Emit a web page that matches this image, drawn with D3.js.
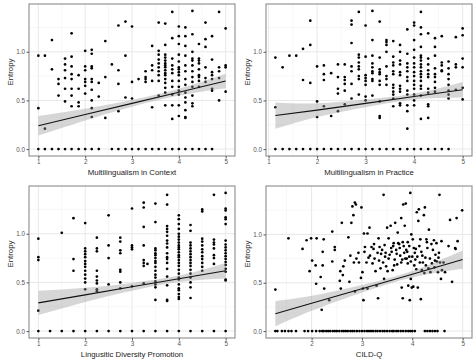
<!DOCTYPE html>
<html>
<head>
<meta charset="utf-8">
<script src="https://cdn.jsdelivr.net/npm/d3@7"></script>
<style>
  body { margin: 0; background: #fff; }
  svg { display: block; }
  text { font-family: "Liberation Sans", Arial, sans-serif; }
</style>
</head>
<body>
<svg width="474" height="364"></svg>
<script>
// ---- data ----
// discrete scores: [x, [entropy values in that column]]
const contextCols = [
  [1, [0.96, 0.42, 0]],
  [1.14, [0.96, 0.21, 0]],
  [1.29, [1.12, 0.82, 0]],
  [1.43, [0.72, 0.67, 0.55, 0]],
  [1.57, [0.93, 0.87, 0.81, 0.73, 0.62, 0.49, 0]],
  [1.71, [1.19, 0.95, 0.85, 0.77, 0.72, 0.62, 0.55, 0.44, 0]],
  [1.86, [0.76, 0.62, 0.48, 0.44, 0]],
  [2, [1.01, 0.85, 0.81, 0.72, 0.69, 0.65, 0.57, 0]],
  [2.14, [1.02, 0.98, 0.85, 0.83, 0.72, 0.69, 0.61, 0.5, 0.42, 0.33, 0]],
  [2.29, [0.68, 0.54, 0]],
  [2.43, [1.11, 0.74, 0.32]],
  [2.57, [0.87, 0]],
  [2.71, [1.27, 0.81, 0.67, 0.39, 0]],
  [2.86, [1.31, 0.96, 0.53, 0]],
  [3, [1.26, 0.69, 0.52, 0]],
  [3.14, [0.72, 0]],
  [3.29, [0.8, 0.74, 0.72, 0.69, 0]],
  [3.43, [1.06, 0.86, 0.81, 0.7, 0.43, 0]],
  [3.57, [1.3, 1.01, 0.97, 0.92, 0.88, 0.84, 0.8, 0.76, 0.7, 0.55, 0]],
  [3.71, [1.29, 1.07, 0.97, 0.94, 0.91, 0.88, 0.86, 0.84, 0.81, 0.78, 0.76, 0.72, 0.68, 0.63, 0.58, 0.45, 0]],
  [3.86, [1.41, 1.14, 0.93, 0.86, 0.82, 0.78, 0.7, 0.64, 0.56, 0.45, 0.31, 0]],
  [4, [1.26, 1.16, 1.08, 0.97, 0.9, 0.84, 0.82, 0.79, 0.76, 0.7, 0.64, 0.6, 0.56, 0.45, 0.34, 0]],
  [4.14, [1.25, 1.16, 1.06, 0.96, 0.86, 0.8, 0.72, 0.66, 0.58, 0.53, 0.48, 0.4, 0.33, 0.32, 0]],
  [4.29, [1.42, 1.18, 1.0, 0.93, 0.91, 0.86, 0.8, 0.74, 0.69, 0.64, 0.55, 0.47, 0.44, 0]],
  [4.43, [1.08, 0.93, 0.91, 0.88, 0.82, 0.76, 0.74, 0.7, 0.64, 0]],
  [4.57, [1.3, 1.13, 1.05, 0.84, 0.73, 0.69, 0]],
  [4.71, [1.16, 0.92, 0.79, 0.76, 0.72, 0.62, 0.6, 0]],
  [4.86, [1.41, 0.84, 0.8, 0.73, 0.5]],
  [5, [1.24, 0.86, 0.84, 0.59]]
];

const practiceCols = [
  [1.14, [0.94, 0.43, 0]],
  [1.29, [0.84, 0]],
  [1.43, [0.96, 0]],
  [1.57, [0.96, 0]],
  [1.71, [1.03, 0.71, 0]],
  [1.86, [1.32, 1.07, 0.68, 0]],
  [2, [0.85, 0.49, 0.33, 0]],
  [2.14, [0.86, 0.77, 0.71, 0.44, 0]],
  [2.29, [0.78, 0.34, 0]],
  [2.43, [0.87, 0.74, 0.62, 0.57, 0.39, 0]],
  [2.57, [0.87, 0.74, 0.71, 0.67, 0.6, 0.46, 0]],
  [2.71, [1.32, 1.28, 1.09, 0.85, 0.8, 0.67, 0.52, 0]],
  [2.86, [1.41, 0.97, 0.94, 0.89, 0.85, 0.82, 0.75, 0.72, 0.56, 0]],
  [3, [1.27, 0.95, 0.76, 0.73, 0.7, 0.66, 0.54, 0.5, 0]],
  [3.14, [1.42, 1.12, 0.96, 0.88, 0.84, 0.8, 0.78, 0.72, 0.7, 0.55, 0]],
  [3.29, [1.31, 0.94, 0.82, 0.79, 0.77, 0.7, 0.66, 0.49, 0.34, 0.32, 0]],
  [3.43, [1.12, 1.1, 1.07, 1.0, 0.85, 0.75, 0.72, 0.66, 0]],
  [3.57, [1.11, 0.95, 0.89, 0.86, 0.8, 0.77, 0.66, 0.63, 0.59, 0.56, 0.52, 0.44, 0]],
  [3.71, [1.07, 1.0, 0.91, 0.87, 0.79, 0.76, 0.65, 0.62, 0.59, 0.47, 0.45, 0]],
  [3.86, [1.23, 0.98, 0.88, 0.84, 0.8, 0.74, 0.7, 0.6, 0.56, 0.45, 0.39, 0.21, 0]],
  [4, [1.3, 1.27, 1.12, 1.02, 0.94, 0.88, 0.84, 0.79, 0.75, 0.7, 0.66, 0.62, 0.56, 0.5, 0.45, 0]],
  [4.14, [1.41, 1.25, 1.18, 1.05, 0.96, 0.94, 0.91, 0.87, 0.84, 0.8, 0.77, 0.74, 0.7, 0.65, 0.62, 0.55, 0.31, 0]],
  [4.29, [1.19, 0.93, 0.87, 0.81, 0.77, 0.74, 0.62, 0.58, 0.46, 0.44, 0.32, 0]],
  [4.43, [1.14, 1.05, 0.96, 0.83, 0.77, 0.74, 0.69, 0.63, 0.59, 0]],
  [4.57, [1.16, 0.89, 0.86, 0.81, 0.8, 0]],
  [4.71, [0.9, 0.83, 0.77, 0.72, 0.66, 0.6, 0.56, 0.52, 0]],
  [4.86, [1.15, 0.87, 0.84, 0.61]],
  [5, [1.24, 1.17, 0.93, 0.84, 0.63, 0.51]]
];

const promotionCols = [
  [1, [0.95, 0.76, 0.73, 0.21, 0]],
  [1.25, [0]],
  [1.5, [1.01, 0]],
  [1.75, [1.16, 0.74, 0.62, 0]],
  [2, [1.11, 0.85, 0.82, 0.79, 0.76, 0.72, 0.69, 0.66, 0.62, 0.58, 0.54, 0.5, 0.43, 0]],
  [2.25, [0.96, 0.85, 0.82, 0.62, 0.56, 0.52, 0.49, 0.43, 0.41, 0]],
  [2.5, [1.19, 0.88, 0.75, 0.48, 0]],
  [2.75, [0.96, 0.92, 0.83, 0.8, 0.63, 0.61, 0.5, 0.44, 0]],
  [3, [1.26, 0.88, 0.86, 0.84, 0.46, 0]],
  [3.25, [1.32, 1.27, 1.07, 0.88, 0.73, 0.7, 0.67, 0.49, 0]],
  [3.33, [0.69]],
  [3.5, [1.31, 1.12, 0.85, 0.83, 0.8, 0.78, 0.75, 0.72, 0.7, 0.66, 0.62, 0.58, 0.55, 0.51, 0.48, 0.45, 0.32, 0]],
  [3.75, [1.4, 1.3, 1.08, 1.05, 1.02, 0.98, 0.93, 0.9, 0.86, 0.8, 0.76, 0.74, 0.7, 0.64, 0.56, 0.47, 0.32, 0.31, 0]],
  [4, [1.19, 1.15, 1.1, 1.05, 1.0, 0.97, 0.94, 0.91, 0.88, 0.86, 0.84, 0.81, 0.78, 0.76, 0.73, 0.7, 0.67, 0.63, 0.59, 0.55, 0.53, 0.48, 0.44, 0.42, 0.38, 0.35, 0.33, 0]],
  [4.25, [1.09, 1.03, 0.91, 0.88, 0.85, 0.82, 0.79, 0.76, 0.73, 0.7, 0.67, 0.63, 0.59, 0.55, 0.5, 0.45, 0.34, 0]],
  [4.5, [1.25, 1.23, 0.95, 0.92, 0.88, 0.84, 0.81, 0.77, 0.74, 0.7, 0.66, 0.62, 0]],
  [4.75, [1.4, 0.94, 0.91, 0.89, 0.85, 0.78, 0.75, 0.69, 0]],
  [5, [1.42, 1.26, 1.24, 1.17, 1.15, 1.1, 0.93, 0.89, 0.86, 0.83, 0.8, 0.77, 0.74, 0.71, 0.68, 0.64, 0.61, 0.53, 0.52, 0]]
];

// CILD-Q is continuous: [x, entropy]
const cildPoints = [
  [1.28, 0.43], [1.54, 0.96], [1.82, 0.85], [1.9, 0.94], [1.96, 0.62], [1.99, 0.96], [2.01, 0.73],
  [2.08, 0.68], [2.09, 0.49], [2.1, 0.96], [2.18, 0.56], [2.2, 0.22], [2.22, 0.82], [2.22, 0.68],
  [2.24, 0.95], [2.25, 0.44], [2.35, 0.32], [2.41, 1.03], [2.41, 0.72], [2.46, 0.87], [2.46, 0.84],
  [2.56, 0.52], [2.57, 0.62], [2.58, 0.44], [2.6, 1.12], [2.62, 0.58], [2.63, 0.67], [2.66, 0.73],
  [2.73, 0.97], [2.75, 0.51], [2.77, 0.78], [2.79, 1.12], [2.81, 1.29], [2.83, 1.2], [2.84, 0.71],
  [2.86, 0.41], [2.86, 1.33], [2.88, 1.31], [2.89, 0.75], [2.93, 0.81], [2.94, 0.71], [2.98, 0.55],
  [2.99, 1.28], [3.01, 0.61], [3.02, 0.44], [3.03, 0.32], [3.04, 1.01], [3.05, 0.82], [3.06, 0.87],
  [3.09, 0.71], [3.11, 1.01], [3.11, 0.44], [3.15, 1.07], [3.16, 0.78], [3.19, 0.87], [3.21, 0.7],
  [3.23, 0.85], [3.25, 0.75], [3.27, 0.62], [3.29, 0.47], [3.31, 0.81], [3.32, 0.34], [3.33, 0.96],
  [3.35, 0.87], [3.37, 0.65], [3.38, 0.8], [3.42, 0.71], [3.43, 1.41], [3.44, 0.54], [3.45, 0.89],
  [3.47, 0.81], [3.48, 0.67], [3.5, 1.07], [3.51, 0.62], [3.53, 0.96], [3.53, 0.75], [3.57, 1.09],
  [3.58, 0.86], [3.59, 0.82], [3.61, 0.63], [3.63, 0.91], [3.65, 0.74], [3.66, 1.12], [3.68, 0.84],
  [3.7, 0.69], [3.71, 1.02], [3.72, 0.91], [3.74, 0.9], [3.76, 0.78], [3.78, 1.17], [3.78, 0.71],
  [3.79, 0.45], [3.81, 0.92], [3.81, 0.34], [3.82, 1.31], [3.83, 0.88], [3.84, 0.81], [3.85, 1.09],
  [3.86, 0.75], [3.87, 1.32], [3.88, 0.84], [3.89, 0.75], [3.91, 0.92], [3.91, 0.7], [3.92, 0.47],
  [3.94, 0.77], [3.94, 0.88], [3.95, 0.32], [3.96, 1.43], [3.97, 0.54], [3.98, 1.0], [3.99, 0.45],
  [4.0, 0.77], [4.01, 0.95], [4.02, 0.46], [4.03, 0.86], [4.04, 0.68], [4.05, 0.81], [4.07, 0.85],
  [4.08, 0.64], [4.09, 1.23], [4.1, 0.77], [4.11, 0.45], [4.12, 1.14], [4.13, 1.26], [4.15, 0.71],
  [4.16, 0.95], [4.17, 0.33], [4.18, 0.82], [4.19, 0.63], [4.21, 0.71], [4.23, 1.2], [4.24, 0.6],
  [4.25, 1.28], [4.26, 0.76], [4.28, 0.95], [4.29, 0.92], [4.3, 0.86], [4.32, 0.65], [4.33, 1.05],
  [4.35, 0.75], [4.36, 0.61], [4.39, 0.7], [4.41, 0.84], [4.43, 0.94], [4.45, 0.73], [4.46, 0.79],
  [4.48, 0.91], [4.49, 0.72], [4.51, 0.61], [4.53, 0.81], [4.54, 1.41], [4.55, 0.71], [4.57, 0.54],
  [4.58, 0.93], [4.59, 0.63], [4.62, 0.71], [4.65, 0.61], [4.72, 0.88], [4.75, 1.15], [4.79, 0.51],
  [4.85, 0.86], [4.86, 0.85], [4.88, 1.17], [4.9, 0.93], [4.99, 1.25],
  [3.24, 0.9], [3.4, 0.84], [3.55, 0.79], [3.62, 0.88], [3.69, 0.8], [3.75, 0.86], [3.8, 0.74],
  [3.9, 0.82], [3.97, 0.72], [4.06, 0.74], [4.14, 0.88], [4.2, 0.78], [4.27, 0.68], [4.38, 0.9],
  [4.44, 0.66], [4.52, 0.76], [3.13, 0.76], [3.34, 0.73], [3.46, 0.77], [3.64, 0.68]
];
// CILD-Q scores of participants with zero entropy
const cildZeroX = [
  1.28, 1.32, 1.41, 1.47, 1.54, 1.6, 1.69, 1.86, 1.93, 2.01, 2.09, 2.16, 2.21, 2.24,
  2.29, 2.33, 2.37, 2.42, 2.46, 2.5, 2.55, 2.6, 2.64, 2.68, 2.72, 2.77, 2.81, 2.85, 2.9, 2.95,
  3.0, 3.05, 3.1, 3.14, 3.18, 3.22, 3.27, 3.31, 3.36, 3.41, 3.45, 3.5, 3.55, 3.6,
  3.63, 3.68, 3.72, 3.77, 3.82, 3.87, 3.92, 3.96, 4.0, 4.05,
  4.25, 4.3, 4.35, 4.4, 4.45, 4.5, 4.64
];

// fitted line with its confidence band: [x, fit, lower, upper]
const contextFit = [[1, 0.24, 0.14, 0.34], [2, 0.355, 0.295, 0.415], [3, 0.47, 0.435, 0.505], [4, 0.585, 0.55, 0.62], [5, 0.7, 0.625, 0.775]];
const practiceFit = [[1.14, 0.345, 0.21, 0.48], [2, 0.4, 0.33, 0.47], [3, 0.47, 0.43, 0.51], [4, 0.54, 0.51, 0.57], [5, 0.61, 0.53, 0.69]];
const promotionFit = [[1, 0.29, 0.165, 0.415], [2, 0.3725, 0.3, 0.445], [3, 0.455, 0.415, 0.495], [4, 0.5375, 0.505, 0.57], [5, 0.62, 0.54, 0.7]];
const cildFit = [[1.28, 0.18, 0.05, 0.31], [2, 0.288, 0.21, 0.365], [3, 0.439, 0.4, 0.478], [4, 0.589, 0.555, 0.623], [5, 0.74, 0.645, 0.835]];

const likertTicks = [1, 2, 3, 4, 5];
const cildTicks = [2, 3, 4, 5];
const entropyTicks = [0, 0.5, 1.0];

const axisTitles = ["Multilingualism in Context", "Multilingualism in Practice", "Lingusitic Diversity Promotion", "CILD-Q"];
const yTitle = "Entropy";

// ---- layout ----
const svg = d3.select("svg");
const cellW = 237, cellH = 182;
const margin = { top: 4, right: 2, bottom: 26, left: 29 };
const innerW = cellW - margin.left - margin.right;
const innerH = cellH - margin.top - margin.bottom;

const fromCols = (cols) => cols.flatMap(([x, ys]) => ys.map((y) => [x, y]));

const panels = [
  { title: axisTitles[0], points: fromCols(contextCols), fit: contextFit, xTicks: likertTicks, col: 0, row: 0 },
  { title: axisTitles[1], points: fromCols(practiceCols), fit: practiceFit, xTicks: likertTicks, col: 1, row: 0 },
  { title: axisTitles[2], points: fromCols(promotionCols), fit: promotionFit, xTicks: likertTicks, col: 0, row: 1 },
  { title: axisTitles[3], points: cildPoints.concat(cildZeroX.map((x) => [x, 0])), fit: cildFit, xTicks: cildTicks, col: 1, row: 1 }
];

// ggplot-like 5% padding around the data range
const padded = (vals) => {
  const [a, b] = d3.extent(vals);
  const p = (b - a) * 0.05;
  return [a - p, b + p];
};

const midpoints = (ticks, domain) => {
  const step = ticks[1] - ticks[0];
  const out = [];
  for (let v = ticks[0] - step / 2; v <= domain[1]; v += step) {
    if (v >= domain[0]) out.push(v);
  }
  return out;
};

const render = (p) => {
  const g = svg
    .append("g")
    .attr("transform", `translate(${p.col * cellW + margin.left},${p.row * cellH + margin.top})`);

  const xDom = padded(p.points.map((d) => d[0]).concat(p.fit.map((d) => d[0])));
  const yDom = padded(p.points.map((d) => d[1]).concat(p.fit.map((d) => d[2]), p.fit.map((d) => d[3])));

  const x = d3.scaleLinear().domain(xDom).range([0, innerW]);
  const y = d3.scaleLinear().domain(yDom).range([innerH, 0]);

  // grid
  const grid = g.append("g");
  grid.selectAll(".vminor").data(midpoints(p.xTicks, xDom)).join("line")
    .attr("x1", (d) => x(d)).attr("x2", (d) => x(d)).attr("y1", 0).attr("y2", innerH)
    .attr("stroke", "#f2f2f2").attr("stroke-width", 0.6);
  grid.selectAll(".hminor").data(midpoints(entropyTicks, yDom)).join("line")
    .attr("x1", 0).attr("x2", innerW).attr("y1", (d) => y(d)).attr("y2", (d) => y(d))
    .attr("stroke", "#f2f2f2").attr("stroke-width", 0.6);
  grid.selectAll(".vmajor").data(p.xTicks).join("line")
    .attr("x1", (d) => x(d)).attr("x2", (d) => x(d)).attr("y1", 0).attr("y2", innerH)
    .attr("stroke", "#e8e8e8").attr("stroke-width", 1);
  grid.selectAll(".hmajor").data(entropyTicks).join("line")
    .attr("x1", 0).attr("x2", innerW).attr("y1", (d) => y(d)).attr("y2", (d) => y(d))
    .attr("stroke", "#e8e8e8").attr("stroke-width", 1);

  // points
  g.append("g").selectAll("circle").data(p.points).join("circle")
    .attr("cx", (d) => x(d[0]))
    .attr("cy", (d) => y(d[1]))
    .attr("r", 1.35)
    .attr("fill", "#000");

  // confidence band + fitted line
  const band = d3.area()
    .x((d) => x(d[0]))
    .y0((d) => y(d[2]))
    .y1((d) => y(d[3]))
    .curve(d3.curveNatural);
  g.append("path").datum(p.fit).attr("d", band).attr("fill", "#999").attr("fill-opacity", 0.4);

  const line = d3.line().x((d) => x(d[0])).y((d) => y(d[1]));
  g.append("path").datum(p.fit).attr("d", line)
    .attr("fill", "none").attr("stroke", "#111").attr("stroke-width", 1.1);

  // panel border
  g.append("rect")
    .attr("x", 0).attr("y", 0).attr("width", innerW).attr("height", innerH)
    .attr("fill", "none").attr("stroke", "#8c8c8c").attr("stroke-width", 1.1);

  // axes
  const xAxisG = g.append("g")
    .attr("transform", `translate(0,${innerH})`)
    .call(d3.axisBottom(x).tickValues(p.xTicks).tickSize(2.5).tickPadding(1.5).tickFormat(d3.format("d")));
  const yAxisG = g.append("g")
    .call(d3.axisLeft(y).tickValues(entropyTicks).tickSize(2.5).tickPadding(1.5).tickFormat(d3.format(".1f")));

  [xAxisG, yAxisG].forEach((a) => {
    a.select(".domain").remove();
    a.selectAll(".tick line").attr("stroke", "#555");
    a.selectAll(".tick text")
      .attr("fill", "#555")
      .style("font-size", "6.3px")
      .style("font-family", "'Liberation Sans', Arial, sans-serif");
  });

  g.append("text")
    .attr("x", innerW / 2)
    .attr("y", innerH + 19)
    .attr("text-anchor", "middle")
    .attr("fill", "#222")
    .style("font-size", "7.8px")
    .text(p.title);

  g.append("text")
    .attr("transform", `translate(-19,${innerH / 2 - 8}) rotate(-90)`)
    .attr("dy", "0.35em")
    .attr("text-anchor", "middle")
    .attr("fill", "#222")
    .style("font-size", "7.8px")
    .text(yTitle);
};

panels.forEach(render);
</script>
</body>
</html>
